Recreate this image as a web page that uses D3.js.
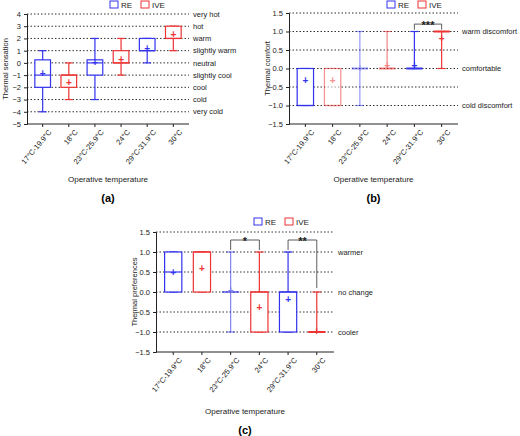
<!DOCTYPE html><html><head><meta charset="utf-8"><script src="https://cdn.jsdelivr.net/npm/d3@7"></script>
<style>body{margin:0;background:#fff}text{font-family:Arial,"Liberation Sans",sans-serif}</style></head><body>
<svg id="s" width="520" height="436"></svg>
<script>
const categories=["17°C-19.9°C","18°C","23°C-25.9°C","24°C","29°C-31.9°C","30°C"];
const groups=["RE","IVE","RE","IVE","RE","IVE"];
// [whiskerLow, q1, median, q3, whiskerHigh, mean]
const sensation=[[-4,-2,-1,0.25,1,-0.9],[-3,-2,-1,-1,0,-1.6],[-3,-1,0,0.25,2,0],[-1,0,0,1,2,0.3],[0,1,1,2,2,1.2],[1,2,2,3,3,2.3]];
const comfort=[[-1,-1,-1,0,0,-0.33],[-1,-1,-1,0,0,-0.33],[-1,0,0,0,1,0],[0,0,0,0,1,0.08],[0,0,0,0,1,0.08],[0,1,1,1,1,0.8]];
const preference=[[0,0,0.5,1,1,0.5],[0,0,1,1,1,0.58],[-1,0,0,0,1,0.05],[-1,-1,0,0,1,-0.38],[-1,-1,0,0,1,-0.18],[-1,-1,-1,-1,0,-0.98]];
const sensTicks=[4,3,2,1,0,-1,-2,-3,-4,-5];
const sensLabels=["very hot","hot","warm","slightly warm","neutral","slightly cool","cool","cold","very cold"];
const sensLabelVals=[4,3,2,1,0,-1,-2,-3,-4];
const halfTicks=[1.5,1,0.5,0,-0.5,-1,-1.5];
const comfLabels=["warm discomfort","comfortable","cold discomfort"];
const comfLabelVals=[1,0,-1];
const prefLabels=["warmer","no change","cooler"];
const prefLabelVals=[1,0,-1];
const color={RE:"#3333ee",IVE:"#ee3333"};
const svg=d3.select("#s");
function panel(o){
  const g=svg.append("g");
  const y=d3.scaleLinear().domain(o.dom).range([o.y1,o.y0]);
  const x=d3.scaleBand().domain(categories).range([o.x0,o.x1]).paddingInner(0.4).paddingOuter(0.3);
  const xr=o.x1+o.ext;
  o.ticks.forEach(t=>g.append("line").attr("x1",o.x0).attr("x2",xr).attr("y1",y(t)).attr("y2",y(t)).attr("stroke","#333").attr("stroke-width",1).attr("stroke-dasharray","1.5,2").attr("opacity",t===o.dom[0]?0:1));
  g.append("g").attr("transform",`translate(${o.x0},0)`).call(d3.axisLeft(y).tickValues(o.ticks).tickSize(3).tickFormat(o.fmt))
    .call(a=>{a.selectAll("text").attr("font-size",7.5).attr("fill","#222");a.selectAll("path,line").attr("stroke","#222");});
  g.append("g").attr("transform",`translate(0,${o.y1})`).call(d3.axisBottom(x).tickSize(3).tickSizeOuter(0))
    .call(a=>{a.select("path").attr("d",`M${o.x0},0H${o.x1}`);a.selectAll("path,line").attr("stroke","#222");
      a.selectAll("text").attr("font-size",7.5).attr("fill","#222").attr("text-anchor","end").attr("transform","translate(3,3) rotate(-50)").attr("dy","0.3em").attr("dx","0");});
  o.labels.forEach((l,i)=>g.append("text").attr("x",xr+4).attr("y",y(o.labelVals[i])).attr("dy","0.35em").attr("font-size",7.5).attr("fill","#222").text(l));
  const bw=x.bandwidth(),cw=bw*0.5;
  o.data.forEach((d,i)=>{
    const c=color[groups[i]],cx=x(categories[i])+bw/2,L=x(categories[i]);
    const bg=g.append("g").attr("stroke",c).attr("stroke-width",1.2).attr("fill","none").attr("opacity",o.op?o.op[i]:1);
    bg.append("line").attr("x1",cx).attr("x2",cx).attr("y1",y(d[0])).attr("y2",y(d[4]));
    [d[0],d[4]].forEach(v=>bg.append("line").attr("x1",cx-cw/2).attr("x2",cx+cw/2).attr("y1",y(v)).attr("y2",y(v)));
    bg.append("rect").attr("x",L).attr("width",bw).attr("y",y(d[3])).attr("height",Math.max(0,y(d[1])-y(d[3]))).attr("fill","#fff");
    bg.append("line").attr("x1",L).attr("x2",L+bw).attr("y1",y(d[2])).attr("y2",y(d[2])).attr("stroke-width",d[1]===d[3]?2:1.2);
    bg.append("text").attr("x",cx).attr("y",y(d[5])).attr("dy","0.35em").attr("text-anchor","middle").attr("font-size",10).attr("font-weight","bold").attr("fill",c).attr("stroke","none").text("+");
  });
  (o.brackets||[]).forEach(b=>{
    const a1=x(categories[b[0]])+bw/2,a2=x(categories[b[1]])+bw/2,yy=y(b[2]);
    g.append("path").attr("d",`M${a1},${y(b[3])}V${yy}H${a2}V${y(b[4])}`).attr("fill","none").attr("stroke","#333").attr("stroke-width",0.8);
    g.append("text").attr("x",(a1+a2)/2).attr("y",yy+5).attr("text-anchor","middle").attr("font-size",11).attr("font-weight","bold").attr("fill","#222").text(b[5]);
  });
  g.append("text").attr("transform",`translate(${o.x0-19},${(o.y0+o.y1)/2}) rotate(-90)`).attr("text-anchor","middle").attr("font-size",7.5).attr("fill","#222").text(o.ylab);
  g.append("text").attr("x",(o.x0+o.x1)/2).attr("y",o.xtY).attr("text-anchor","middle").attr("font-size",8).attr("fill","#222").text("Operative temperature");
  g.append("text").attr("x",(o.x0+o.x1)/2).attr("y",o.xtY+20).attr("text-anchor","middle").attr("font-size",11).attr("font-weight","bold").attr("font-family","Liberation Serif,serif").text(o.tag);
  const lx=o.lx,ly=o.ly;
  [["RE",0],["IVE",31]].forEach(([k,dx])=>{
    g.append("rect").attr("x",lx+dx).attr("y",ly-4).attr("width",8).attr("height",7).attr("fill","none").attr("stroke",color[k]).attr("stroke-width",1);
    g.append("text").attr("x",lx+dx+11).attr("y",ly+3).attr("font-size",8).attr("fill","#222").text(k);
  });
}
panel({x0:27,x1:189,ext:0,y0:14,y1:124,dom:[-5,4],ticks:sensTicks,fmt:d3.format("d"),labels:sensLabels,labelVals:sensLabelVals,data:sensation,ylab:"Thermal sensation",xtY:182,tag:"(a)",lx:110,ly:5});
panel({x0:289,x1:458,ext:0,y0:13,y1:124,dom:[-1.5,1.5],ticks:halfTicks,fmt:d3.format(".1f"),labels:comfLabels,labelVals:comfLabelVals,data:comfort,op:[1,0.55,0.5,0.6,1,1],ylab:"Thermal comfort",xtY:182,tag:"(b)",lx:387,ly:5,brackets:[[4,5,1.2,1.05,1.05,"***"]]});
panel({x0:156,x1:334,ext:0,y0:232,y1:352,dom:[-1.5,1.5],ticks:halfTicks,fmt:d3.format(".1f"),labels:prefLabels,labelVals:prefLabelVals,data:preference,op:[1,1,0.6,1,1,1],ylab:"Thermal preferences",xtY:414,tag:"(c)",lx:254,ly:222,brackets:[[2,3,1.3,1.05,1.05,"*"],[4,5,1.3,1.05,0.1,"**"]]});
</script></body></html>
